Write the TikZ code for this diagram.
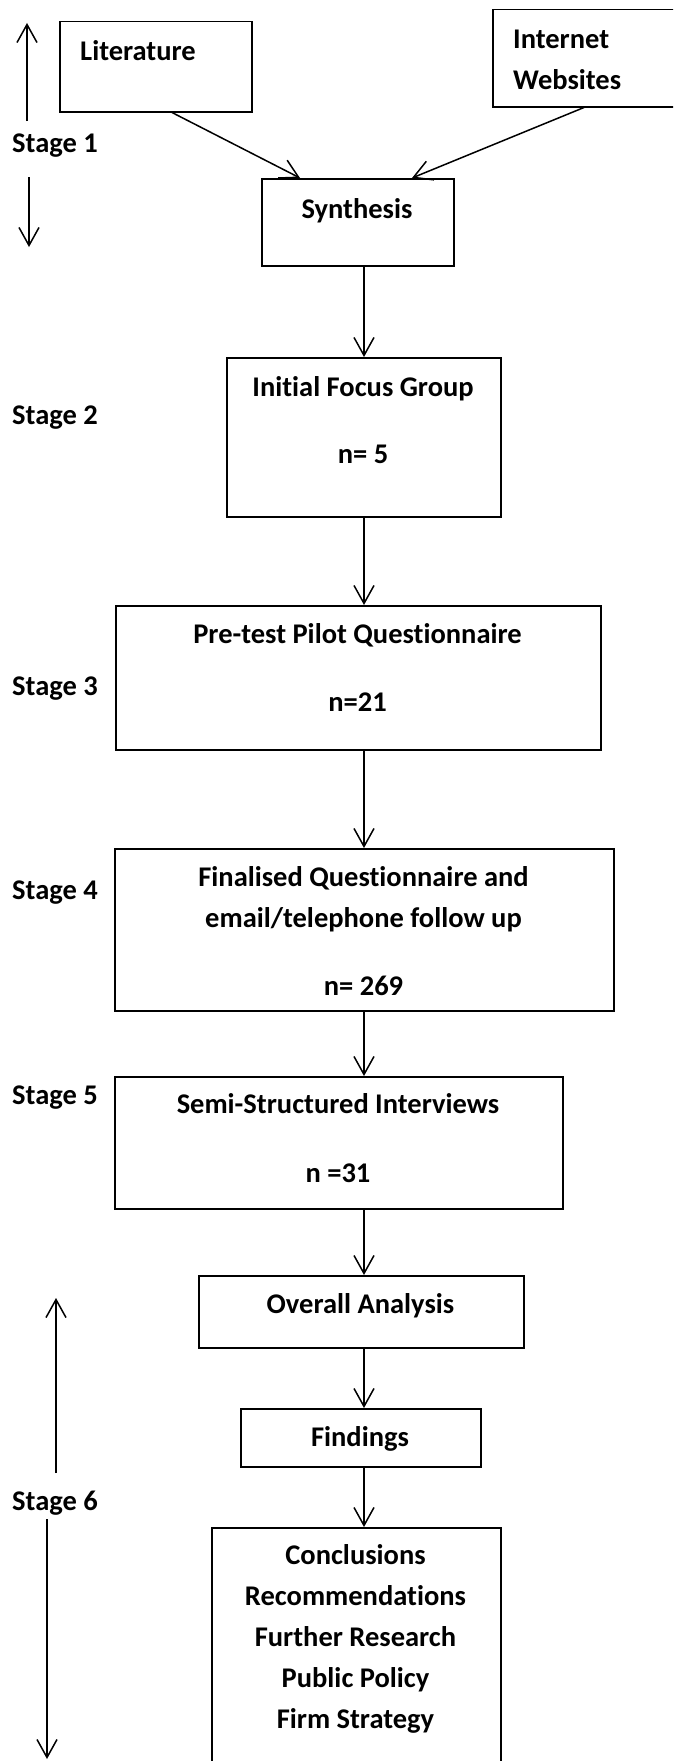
\documentclass[tikz,border=0pt]{standalone}
\usepackage{fontspec}
\setmainfont{Carlito}[Ligatures=NoCommon]
\usetikzlibrary{arrows.meta,calc}
\tikzset{
  box/.style={draw, line width=1.5pt, rectangle, inner sep=0pt, anchor=north west},
  txt/.style={font=\fontsize{28.5}{41}\selectfont\bfseries, inner sep=0pt, anchor=base},
  ltxt/.style={txt, anchor=base west},
  mtxt/.style={font=\fontsize{28.5}{41}\selectfont\bfseries, inner sep=0pt, anchor=north, align=center},
  arr/.style={line width=1.5pt, -{Straight Barb[length=18pt,width=20pt]}},
}
\begin{document}
\begin{tikzpicture}[x=1pt,y=-1pt]
\useasboundingbox (0,0) rectangle (673,1761);
\clip (0,0) rectangle (673,1761);
\coordinate (axis) at (364,0);

% Stage 1
\node[box, minimum width=192pt, minimum height=90pt] (lit) at (59,21) {};
\node[ltxt] (litT) at (80,60) {Literature};
\node[box, minimum width=240pt, minimum height=97pt] (web) at (492,9) {};
\node[mtxt, anchor=north west, align=left] (webT) at (513,19.3) {\strut Internet\\Websites};
\node[box, minimum width=192pt, minimum height=87pt] (syn) at (261,178) {};
\node[txt] (synT) at (357,218) {Synthesis};
\node[ltxt] (st1) at (12,152) {Stage 1};
\coordinate (s1a) at (27,121); \coordinate (s1b) at (27,23);
\coordinate (s1c) at (29,177); \coordinate (s1d) at (29,247);
\draw[arr] (s1a) -- (s1b);
\draw[arr] (s1c) -- (s1d);
\draw[arr] ($(lit.south west)+(113,0)$) -- ($(syn.north west)+(39,0)$);
\draw[arr] ($(web.south west)+(92,0)$) -- ($(syn.north west)+(151,0)$);

% Stage 2
\node[box, minimum width=274pt, minimum height=159pt] (ifg) at (226,357) {};
\node[txt] (ifgT) at (363,396) {Initial Focus Group};
\node[txt] (ifgN) at (363,463) {n= 5};
\node[ltxt] (st2) at (12,424) {Stage 2};

% Stage 3
\node[box, minimum width=485pt, minimum height=144pt] (pre) at (115,605) {};
\node[txt] (preT) at (357.5,643) {Pre-test Pilot Questionnaire};
\node[txt] (preN) at (357.5,711) {n=21};
\node[ltxt] (st3) at (12,695) {Stage 3};

% Stage 4
\node[box, minimum width=499pt, minimum height=162pt] (fin) at (114,848) {};
\node[mtxt] (finT) at (363.5,857.3) {\strut Finalised Questionnaire and\\email/telephone follow up};
\node[txt] (finN) at (363.5,995) {n= 269};
\node[ltxt] (st4) at (12,899) {Stage 4};

% Stage 5
\node[box, minimum width=448pt, minimum height=132pt] (semi) at (114,1076) {};
\node[txt] (semiT) at (338,1113) {Semi-Structured Interviews};
\node[txt] (semiN) at (338,1182) {n =31};
\node[ltxt] (st5) at (12,1104) {Stage 5};

% Stage 6
\node[box, minimum width=325pt, minimum height=72pt] (oa) at (198,1275) {};
\node[txt] (oaT) at (360.5,1313) {Overall Analysis};
\node[box, minimum width=240pt, minimum height=58pt] (fnd) at (240,1408) {};
\node[txt] (fndT) at (360,1446) {Findings};
\node[box, minimum width=289pt, minimum height=300pt] (con) at (211,1527) {};
\node[mtxt] (conT) at (355.5,1535.3) {\strut Conclusions\\Recommendations\\Further Research\\Public Policy\\Firm Strategy};
\node[ltxt] (st6) at (12,1510) {Stage 6};
\coordinate (s6a) at (56,1473); \coordinate (s6b) at (56,1298);
\coordinate (s6c) at (47,1519); \coordinate (s6d) at (47,1759);
\draw[arr] (s6a) -- (s6b);
\draw[arr] (s6c) -- (s6d);

% main flow
\draw[arr] (syn.south -| axis) -- (ifg.north -| axis);
\draw[arr] (ifg.south -| axis) -- (pre.north -| axis);
\draw[arr] (pre.south -| axis) -- (fin.north -| axis);
\draw[arr] (fin.south -| axis) -- (semi.north -| axis);
\draw[arr] (semi.south -| axis) -- (oa.north -| axis);
\draw[arr] (oa.south -| axis) -- (fnd.north -| axis);
\draw[arr] (fnd.south -| axis) -- (con.north -| axis);
\end{tikzpicture}
\end{document}
